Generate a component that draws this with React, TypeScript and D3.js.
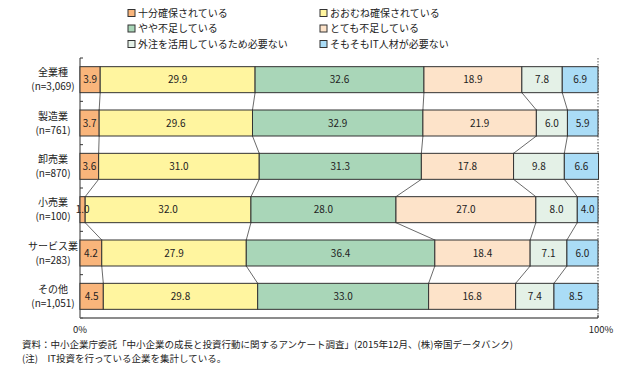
import React from 'react'
import * as d3 from 'd3'

const categories = ['全業種', '製造業', '卸売業', '小売業', 'サービス業', 'その他']
const sampleSizes = ['(n=3,069)', '(n=761)', '(n=870)', '(n=100)', '(n=283)', '(n=1,051)']
const seriesNames = [
  '十分確保されている',
  'おおむね確保されている',
  'やや不足している',
  'とても不足している',
  '外注を活用しているため必要ない',
  'そもそもIT人材が必要ない',
]
const seriesColors = ['#f9b57b', '#fff59f', '#a9d6b8', '#fde3c9', '#e4f1e7', '#aadcf6']
const values = [
  [3.9, 29.9, 32.6, 18.9, 7.8, 6.9],
  [3.7, 29.6, 32.9, 21.9, 6.0, 5.9],
  [3.6, 31.0, 31.3, 17.8, 9.8, 6.6],
  [1.0, 32.0, 28.0, 27.0, 8.0, 4.0],
  [4.2, 27.9, 36.4, 18.4, 7.1, 6.0],
  [4.5, 29.8, 33.0, 16.8, 7.4, 8.5],
]
const axisLabels = ['0%', '100%']
const notes = [
  '資料：中小企業庁委託「中小企業の成長と投資行動に関するアンケート調査」(2015年12月、(株)帝国データバンク)',
  '(注)　IT投資を行っている企業を集計している。',
]

const FONT = '"Noto Sans CJK JP", "Noto Sans", sans-serif'

const App = () => {
  const width = 641
  const height = 374
  const left = 80
  const right = 598
  const top = 58
  const bottom = 318

  const x = d3.scaleLinear().domain([0, 100]).range([left, right])
  const y = d3
    .scaleBand()
    .domain(categories)
    .range([top, bottom])
    .paddingInner(0.4)
    .paddingOuter(0.2)

  // cumulative starts for every row
  const stacks = values.map((row) => {
    const cum = [0]
    row.forEach((v) => cum.push(cum[cum.length - 1] + v))
    return cum
  })

  const bh = y.bandwidth()
  const step = y.step()

  return (
    <svg
      width={width}
      height={height}
      style={{ position: 'absolute', left: 0, top: 0, fontFamily: FONT }}
    >
      <rect width={width} height={height} fill='#fff' />

      {/* legend */}
      {seriesNames.map((name, i) => {
        const lx = i % 2 === 0 ? 128 : 320
        const ly = 13 + Math.floor(i / 2) * 15.5
        return (
          <g key={name} transform={`translate(${lx},${ly})`}>
            <rect x={0} y={-3.5} width={7} height={7} fill={seriesColors[i]} stroke='#333' strokeWidth={1} />
            <text x={10} y={0} dy='0.35em' fontSize={10} fill='#222'>
              {name}
            </text>
          </g>
        )
      })}

      {/* left axis */}
      <line x1={left} x2={left} y1={top} y2={bottom} stroke='#333' strokeWidth={1} />
      {d3.range(categories.length + 1).map((i) => {
        const ty = top + (i === 0 ? 0 : y.paddingOuter() * step + i * step - y.paddingInner() * step / 2)
        return <line key={i} x1={left} x2={left + 3} y1={ty} y2={ty} stroke='#333' />
      })}
      {/* right dotted line */}
      <line x1={right} x2={right} y1={top} y2={bottom} stroke='#555' strokeDasharray='1.5,1.5' />
      {/* bottom axis */}
      <line x1={left} x2={right} y1={bottom} y2={bottom} stroke='#666' strokeWidth={1.5} />
      <line x1={right} x2={right} y1={bottom - 3} y2={bottom} stroke='#333' />
      <text x={x(0)} y={330} dy='0.35em' textAnchor='middle' fontSize={9.5} fill='#222'>
        {axisLabels[0]}
      </text>
      <text x={x(100) + 3} y={330} dy='0.35em' textAnchor='middle' fontSize={9.5} fill='#222'>
        {axisLabels[1]}
      </text>

      {/* connectors */}
      {values.slice(0, -1).map((_, i) =>
        d3.range(1, seriesNames.length).map((k) => (
          <line
            key={`c${i}-${k}`}
            x1={x(stacks[i][k])}
            y1={(y(categories[i]) as number) + bh}
            x2={x(stacks[i + 1][k])}
            y2={y(categories[i + 1]) as number}
            stroke='#444'
            strokeWidth={0.8}
          />
        ))
      )}

      {/* bars */}
      {values.map((row, i) => {
        const by = y(categories[i]) as number
        return (
          <g key={categories[i]}>
            {row.map((v, k) => {
              const x0 = x(stacks[i][k])
              const x1 = x(stacks[i][k + 1])
              return (
                <rect key={k} x={x0} y={by} width={x1 - x0} height={bh} fill={seriesColors[k]} stroke='#333' strokeWidth={1} />
              )
            })}
            {row.map((v, k) => {
              const x0 = x(stacks[i][k])
              const x1 = x(stacks[i][k + 1])
              return (
                <text
                  key={`t${k}`}
                  x={(x0 + x1) / 2}
                  y={by + bh / 2}
                  dy='0.35em'
                  textAnchor='middle'
                  fontSize={10}
                  fill='#222'
                >
                  {v.toFixed(1)}
                </text>
              )
            })}
            <text x={53} y={by + bh / 2 - 7} dy='0.35em' textAnchor='middle' fontSize={10} fill='#222'>
              {categories[i]}
            </text>
            <text x={53} y={by + bh / 2 + 7} dy='0.35em' textAnchor='middle' fontSize={10} fill='#222'>
              {sampleSizes[i]}
            </text>
          </g>
        )
      })}

      {/* notes */}
      {notes.map((n, i) => (
        <text key={i} x={22} y={345 + i * 13.5} dy='0.35em' fontSize={9.5} fill='#222'>
          {n}
        </text>
      ))}
    </svg>
  )
}

export default App
